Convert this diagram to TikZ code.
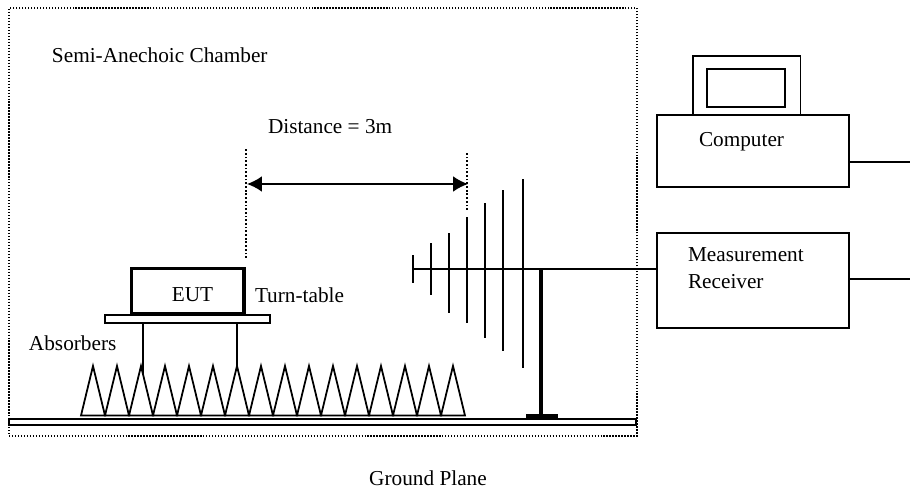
\documentclass[tikz,border=0pt]{standalone}
\usepackage{fontspec}
\setmainfont{Liberation Serif}
\usetikzlibrary{arrows.meta}
\tikzset{>=Latex,line width=.8pt,
  every node/.style={font=\fontsize{12.1}{14}\selectfont,inner sep=0pt,outer sep=0pt},
  chamber/.style={draw,dash pattern=on .75pt off .95pt,line width=.85pt},
  guide/.style={draw,dash pattern=on 1pt off 1.1pt,line width=.9pt},
  unitbox/.style={draw,line width=1pt,anchor=south west},
  element/.style={draw,line width=1pt},
  absorber/.style={draw,fill=white,line width=1pt}}

\begin{document}
\begin{tikzpicture}
\useasboundingbox(0,0)rectangle(18.2,9.76);
% chamber and floor
\node[chamber,minimum width=12.56cm,minimum height=8.56cm,anchor=south west](chamber)at(.18,1.04){};
\node[anchor=west](chamberlabel)at(1.04,8.66){Semi-Anechoic Chamber};
\node[unitbox,line width=1.4pt,minimum width=12.54cm,minimum height=.12cm](floor)at(.18,1.26){};
\node(floorlabel)at(8.56,.2){Ground Plane};
% turn-table and EUT
\node[unitbox,minimum width=3.3cm,minimum height=.16cm](table)at(2.1,3.3){};
\node[unitbox,line width=2pt,minimum width=2.25cm,minimum height=.9cm](eut)at(2.63,3.49){};
\node(eutlabel)at(3.85,3.86){EUT};
\node[anchor=west](tablelabel)at(5.1,3.86){Turn-table};
\node[anchor=west](absorberlabel)at(.58,2.9){Absorbers};
\draw[element](2.86,3.3)--(2.86,2);
\draw[element](4.74,3.3)--(4.74,2);
% absorbers
\foreach \i in {0,...,15}{\draw[absorber]({1.62+.48*\i},1.45)--({1.86+.48*\i},2.44)--({2.1+.48*\i},1.45)--cycle;}
% distance
\coordinate(guideleft)at(4.92,6.8);
\coordinate(guideright)at(9.34,6.7);
\coordinate(guidefoot)at(9.34,5.56);
\coordinate(eutcorner)at(4.92,4.6);
\draw[guide](eutcorner)--(guideleft);
\draw[guide](guidefoot)--(guideright);
\coordinate(arrowleft)at(4.94,6.08);
\coordinate(arrowright)at(9.36,6.08);
\draw[{Latex[length=8.5pt,width=9pt]}-{Latex[length=8.5pt,width=9pt]},line width=1.1pt](arrowleft)--(arrowright);
\node[anchor=west](distancelabel)at(5.36,7.22){Distance = 3m};
% antenna
\foreach \x/\a/\b in {8.26/4.1/4.66,8.62/3.86/4.9,8.98/3.5/5.1,9.34/3.3/5.42,9.7/3/5.7,10.06/2.74/5.96,10.46/2.4/6.18}{\draw[element](\x,\a)--(\x,\b);}
\node[unitbox,minimum width=3.84cm,minimum height=1.9cm](receiver)at(13.14,3.2){};
\node[anchor=north west,align=left,font=\fontsize{12.1}{15.3}\selectfont](receiverlabel)at(13.76,4.8){Measurement\\Receiver};
\coordinate(boomend)at(8.26,4.38);
\draw[element](boomend)--(boomend-|receiver.west);
\draw[line width=2.2pt](10.82,4.38)--(10.82,1.44);
\fill(10.51,1.4)rectangle(11.15,1.48);
% computer
\node[unitbox,minimum width=3.84cm,minimum height=1.44cm](computer)at(13.14,6.02){};
\node[unitbox,minimum width=2.15cm,minimum height=1.18cm](monitor)at(13.86,7.46){};
\node[unitbox,minimum width=1.56cm,minimum height=.76cm](screen)at(14.14,7.62){};
\node[anchor=west](computerlabel)at(13.98,6.92){Computer};
\coordinate(computerend)at(18.2,6.52);
\coordinate(receiverend)at(18.2,4.18);
\draw[element](computer.east|-computerend)--(computerend);
\draw[element](receiver.east|-receiverend)--(receiverend);
\end{tikzpicture}
\end{document}
